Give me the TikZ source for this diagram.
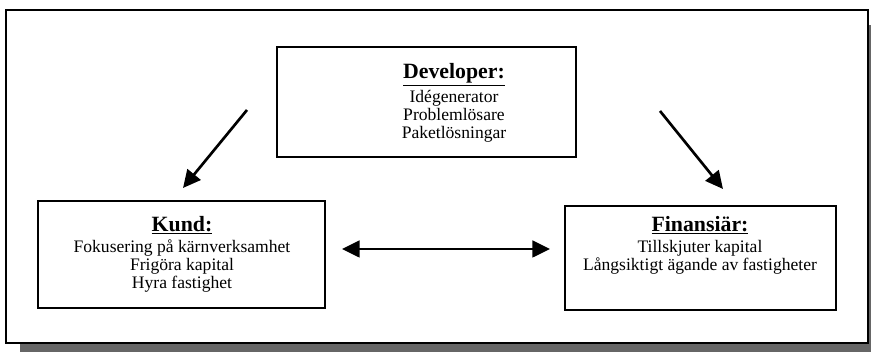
\documentclass[tikz,border=0pt]{standalone}
\usepackage{fontspec}
\setmainfont{Liberation Serif}
\usetikzlibrary{arrows.meta}

\tikzset{
  box/.style={draw, line width=1.1pt, inner sep=0pt},
  boxtext/.style={align=center, inner sep=0pt, font=\fontsize{12.5}{12.8}\selectfont},
  link/.style={line width=1.9pt, -{Triangle[length=12.5pt,width=12pt]}},
  pair/.style={line width=1.2pt, {Triangle[length=12.5pt,width=12pt]}-{Triangle[length=12.5pt,width=12pt]}}
}
\newcommand{\heading}[1]{{\fontsize{15.5}{16}\selectfont\textbf{\underline{#1}}}}

\begin{document}
\begin{tikzpicture}[x=0.025cm, y=-0.025cm]
\useasboundingbox (0,0) rectangle (871,352);

% frame with shadow
\fill[black!60] (20,343) rectangle (871,352);
\fill[black!60] (868,25) rectangle (871,352);
\draw[line width=1.1pt] (6,10) rectangle (868,343);

% boxes
\node[box, minimum width=7.48cm, minimum height=2.75cm] (dev) at (426.5,102) {};
\node[box, minimum width=7.18cm, minimum height=2.68cm] (kund) at (181.5,254.5) {};
\node[box, minimum width=6.78cm, minimum height=2.6cm] (fin) at (700.5,258) {};

\node[boxtext] (devtxt) at (454,103) {\heading{Developer:}\\[2pt] Idégenerator\\ Problemlösare\\ Paketlösningar};
\node[boxtext] (kundtxt) at (182,254) {\heading{Kund:}\\[2pt] Fokusering på kärnverksamhet\\ Frigöra kapital\\ Hyra fastighet};
\node[boxtext] (fintxt) at (700,245) {\heading{Finansiär:}\\[2pt] Tillskjuter kapital\\ Långsiktigt ägande av fastigheter};

% arrows
\coordinate (a1) at (247,110);
\coordinate (a2) at (183,188);
\coordinate (b1) at (660,111);
\coordinate (b2) at (723,189);
\coordinate (c1) at (342,249);
\coordinate (c2) at (550,249);
\draw[link] (a1) -- (a2);
\draw[link] (b1) -- (b2);
\draw[pair] (c1) -- (c2);
\end{tikzpicture}
\end{document}
